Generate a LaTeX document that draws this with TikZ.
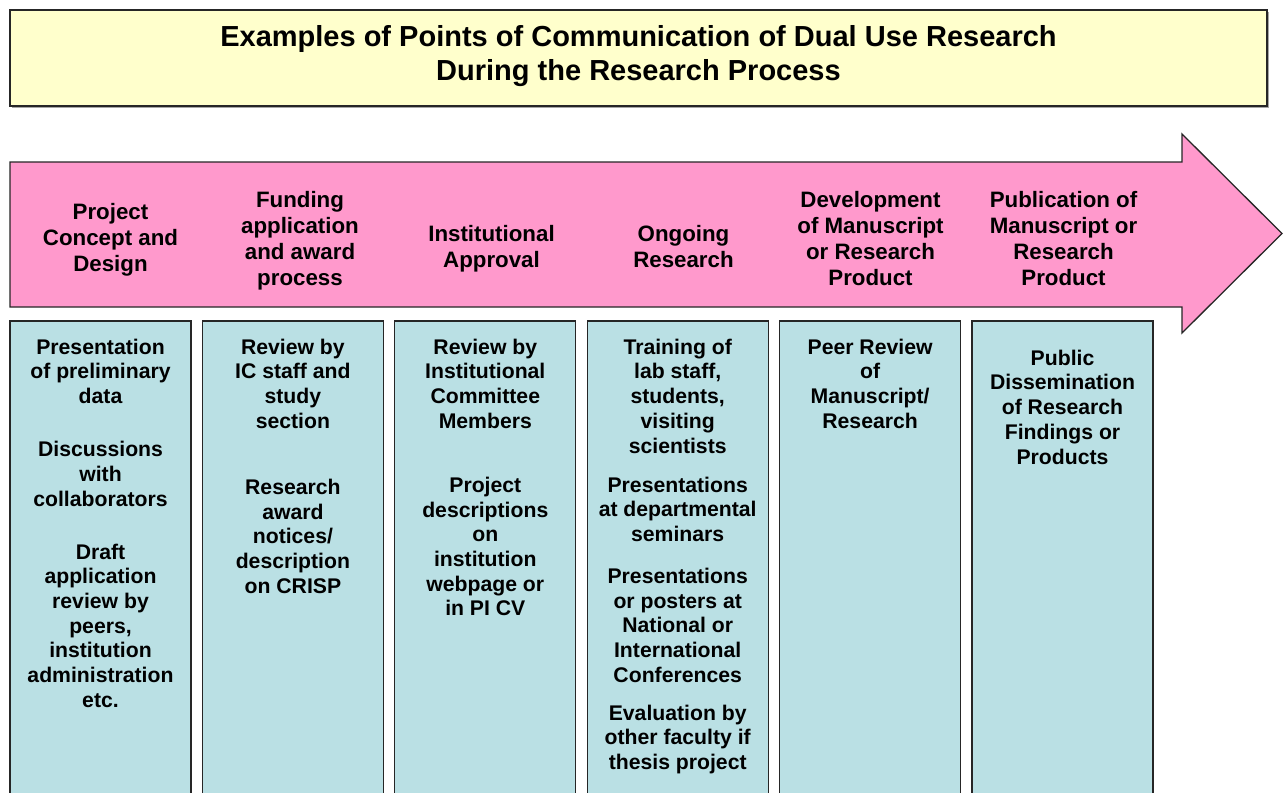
\documentclass[tikz,border=0pt]{standalone}
\usepackage{fontspec}
\setmainfont{Liberation Sans}
\usetikzlibrary{positioning, shadows}
\definecolor{titleyellow}{RGB}{255,255,204}
\definecolor{stagepink}{RGB}{255,153,204}
\definecolor{boxblue}{RGB}{186,224,228}
\tikzset{node distance=192.4pt,
  titlebox/.style={rectangle, draw=black!85, line width=1.5pt, fill=titleyellow, minimum width=1257pt, minimum height=96pt, drop shadow={shadow xshift=2pt, shadow yshift=-2pt, fill=black!35, opacity=1}},
  colbox/.style={rectangle, draw=black!85, line width=1.3pt, fill=boxblue, minimum width=181pt, minimum height=480pt},
  stagetext/.style={align=center, anchor=north, inner sep=0pt, font=\fontsize{22.3}{26}\selectfont\bfseries},
  boxtext/.style={align=center, anchor=north, inner sep=0pt, font=\fontsize{21.2}{24.7}\selectfont\bfseries},
  titletext/.style={align=center, anchor=north, inner sep=0pt, font=\fontsize{29}{34}\selectfont\bfseries}}
\begin{document}
\begin{tikzpicture}[x=1pt, y=-1pt]
    \useasboundingbox (0,0) rectangle (1284,792);
    % title
    \node[titlebox] (title) at (638.5,58) {};
    \node[titletext] (titlelines) at (638.5,25.5) {Examples of Points of Communication of Dual Use Research\\ During the Research Process};
    % process arrow
    \draw[draw=black!85, line width=1.3pt, fill=stagepink, line join=miter] (10,162) -- (1182,162) -- (1182,134) -- (1282,233.5) -- (1182,333) -- (1182,307) -- (10,307) -- cycle;
    \node[stagetext] (concept) at (110.5,203) {Project\\ Concept and\\ Design};
    \node[stagetext] (funding) at (300,191) {Funding\\ application\\ and award\\ process};
    \node[stagetext] (approval) at (491.5,225) {Institutional\\ Approval};
    \node[stagetext] (ongoing) at (683.5,225) {Ongoing\\ Research};
    \node[stagetext] (develop) at (870.5,191) {Development\\ of Manuscript\\ or Research\\ Product};
    \node[stagetext] (publish) at (1063.5,191) {Publication of\\ Manuscript or\\ Research\\ Product};
    % example boxes
    \node[colbox] (box1) at (100.5,561) {};
    \node[colbox, right of=box1] (box2) {};
    \node[colbox, right of=box2] (box3) {};
    \node[colbox, right of=box3] (box4) {};
    \node[colbox, right of=box4] (box5) {};
    \node[colbox, right of=box5] (box6) {};
    \node[boxtext] (txt1) at ([yshift=-18.3pt]box1.north) {Presentation\\ of preliminary\\ data\\[28.3pt] Discussions\\ with\\ collaborators\\[28.3pt] Draft\\ application\\ review by\\ peers,\\ institution\\ administration\\ etc.};
    \node[boxtext] (txt2) at ([yshift=-18.3pt]box2.north) {Review by\\ IC staff and\\ study\\ section\\[41.3pt] Research\\ award\\ notices/\\ description\\ on CRISP};
    \node[boxtext] (txt3) at ([yshift=-18.3pt]box3.north) {Review by\\ Institutional\\ Committee\\ Members\\[39.3pt] Project\\ descriptions\\ on\\ institution\\ webpage or\\ in PI CV};
    \node[boxtext] (txt4) at ([yshift=-18.3pt]box4.north) {Training of\\ lab staff,\\ students,\\ visiting\\ scientists\\[14.3pt] Presentations\\ at departmental\\ seminars\\[17.3pt] Presentations\\ or posters at\\ National or\\ International\\ Conferences\\[13.3pt] Evaluation by\\ other faculty if\\ thesis project};
    \node[boxtext] (txt5) at ([yshift=-18.3pt]box5.north) {Peer Review\\ of\\ Manuscript/\\ Research};
    \node[boxtext] (txt6) at ([yshift=-29.3pt]box6.north) {Public\\ Dissemination\\ of Research\\ Findings or\\ Products};
\end{tikzpicture}
\end{document}
